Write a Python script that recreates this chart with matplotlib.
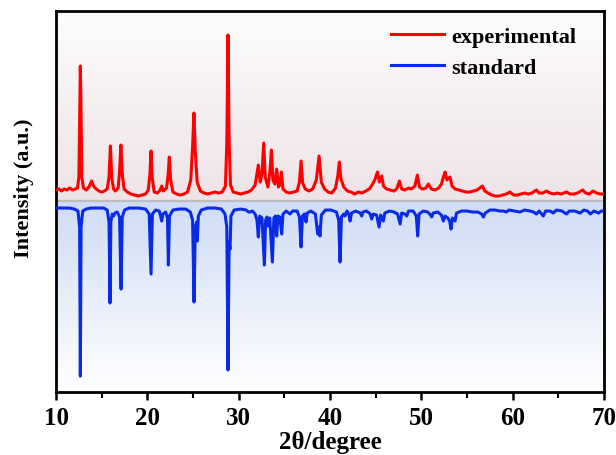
import matplotlib
matplotlib.use('Agg')
import matplotlib.pyplot as plt
import numpy as np
from matplotlib.colors import LinearSegmentedColormap

plt.rcParams['font.family'] = 'Liberation Serif'

# experimental pattern (2theta, intensity a.u.)
exp_2theta = [10.0, 10.3, 10.6, 10.9, 11.2, 11.5, 11.8, 12.1, 12.35, 12.5, 12.6, 12.66, 12.72, 12.82, 13.0,
              13.3, 13.6, 13.9, 14.1, 14.4, 14.7, 15.0, 15.3, 15.6, 15.8, 15.95, 16.1, 16.3, 16.5, 16.8,
              16.95, 17.1, 17.25, 17.45, 17.8, 18.2, 18.6, 19.0, 19.4, 19.8, 20.1, 20.28, 20.4, 20.52, 20.75,
              21.1, 21.4, 21.57, 21.75, 22.1, 22.28, 22.4, 22.55, 22.8, 23.2, 23.6, 24.0, 24.4, 24.75, 24.95,
              25.1, 25.25, 25.45, 25.8, 26.2, 26.6, 27.0, 27.4, 27.8, 28.2, 28.55, 28.7, 28.83, 28.95, 29.1,
              29.4, 29.8, 30.2, 30.6, 31.0, 31.4, 31.8, 32.15, 32.35, 32.55, 32.74, 32.9, 33.2, 33.42, 33.58,
              33.75, 33.95, 34.16, 34.35, 34.5, 34.67, 34.85, 35.2, 35.6, 36.0, 36.4, 36.65, 36.83, 37.0, 37.3,
              37.7, 38.1, 38.5, 38.8, 39.05, 39.4, 39.8, 40.2, 40.6, 40.85, 41.02, 41.2, 41.5, 41.9, 42.3,
              42.7, 43.1, 43.5, 43.9, 44.3, 44.6, 44.9, 45.2, 45.4, 45.66, 45.85, 46.2, 46.6, 47.0, 47.3,
              47.6, 47.85, 48.2, 48.6, 48.9, 49.3, 49.56, 49.8, 50.1, 50.5, 50.77, 51.1, 51.5, 51.9, 52.2,
              52.45, 52.6, 52.8, 53.14, 53.35, 53.7, 54.1, 54.5, 54.9, 55.3, 55.7, 56.1, 56.4, 56.68, 56.95,
              57.3, 57.7, 58.1, 58.5, 58.9, 59.3, 59.7, 60.1, 60.5, 60.9, 61.3, 61.7, 62.1, 62.6, 62.9,
              63.3, 63.7, 64.1, 64.5, 64.9, 65.3, 65.9, 66.3, 66.7, 67.1, 67.67, 68.0, 68.4, 68.8, 69.2,
              69.6, 70.0]
exp_int = [202, 203, 201, 203, 202, 204, 202, 203, 204, 215, 290, 326, 292, 215, 204,
           202, 205, 211, 206, 203, 201, 200, 201, 203, 215, 246, 214, 203, 201, 204,
           220, 247, 218, 203, 200, 198, 197, 196, 197, 198, 202, 218, 241, 215, 200,
           199, 202, 206, 201, 204, 218, 235, 212, 200, 198, 197, 198, 200, 212, 245,
           279, 240, 210, 201, 199, 198, 199, 200, 199, 200, 206, 250, 357, 250, 207,
           200, 199, 198, 199, 200, 202, 207, 227, 210, 218, 249, 215, 205, 220, 242,
           212, 208, 223, 205, 207, 220, 203, 200, 199, 200, 201, 210, 231, 209, 203,
           201, 203, 212, 236, 210, 203, 200, 199, 204, 216, 230, 213, 205, 201, 200,
           198, 200, 199, 201, 203, 207, 212, 220, 210, 216, 206, 203, 202, 201, 203,
           211, 203, 202, 204, 203, 206, 217, 205, 203, 204, 208, 203, 202, 204, 208,
           216, 220, 212, 215, 206, 203, 202, 201, 200, 200, 201, 202, 204, 206, 201,
           199, 197, 196, 196, 197, 198, 200, 197, 197, 198, 199, 198, 199, 202, 199,
           199, 201, 199, 198, 199, 198, 200, 198, 198, 199, 202, 199, 198, 201, 199,
           198, 198]

# standard pattern, drawn downwards from its baseline
std_2theta = [10.0, 10.5, 11.0, 11.5, 12.0, 12.4, 12.58, 12.66, 12.74, 12.92, 13.3, 13.8, 14.5, 15.2, 15.6,
              15.8, 15.91, 16.0, 16.15, 16.3, 16.45, 16.7, 16.95, 17.12, 17.25, 17.5, 18.0, 19.0, 19.8, 20.2,
              20.4, 20.55, 20.9, 21.3, 21.45, 21.57, 21.7, 22.0, 22.2, 22.3, 22.42, 22.8, 23.5, 24.2, 24.7,
              24.95, 25.11, 25.25, 25.4, 25.47, 25.58, 25.9, 26.6, 27.4, 28.1, 28.5, 28.7, 28.83, 28.95, 29.05,
              29.15, 29.5, 30.2, 30.8, 31.1, 31.24, 31.5, 31.8, 32.0, 32.15, 32.3, 32.55, 32.81, 32.95, 33.1,
              33.25, 33.4, 33.69, 33.85, 34.0, 34.16, 34.3, 34.5, 34.71, 34.85, 35.2, 35.62, 35.9, 36.4, 36.65,
              36.83, 36.98, 37.2, 37.37, 37.5, 37.9, 38.4, 38.65, 38.78, 38.9, 39.05, 39.5, 40.1, 40.7, 40.95,
              41.1, 41.25, 41.5, 41.64, 41.85, 42.05, 42.2, 42.35, 42.8, 43.3, 43.47, 43.6, 44.0, 44.4, 44.57,
              44.75, 45.1, 45.37, 45.55, 45.84, 46.0, 46.5, 47.0, 47.4, 47.67, 47.85, 48.2, 48.4, 48.6, 49.1,
              49.45, 49.6, 49.75, 50.2, 50.7, 51.0, 51.13, 51.3, 51.8, 52.2, 52.41, 52.6, 52.9, 53.1, 53.25,
              53.4, 53.69, 53.85, 54.4, 55.0, 55.6, 56.2, 56.6, 56.79, 57.0, 57.5, 58.1, 58.6, 59.0, 59.3,
              59.6, 60.2, 60.8, 61.3, 61.9, 62.3, 62.6, 62.9, 63.36, 63.6, 64.1, 64.45, 64.8, 65.4, 65.9,
              66.2, 66.8, 67.4, 67.8, 68.2, 68.5, 68.9, 69.4, 69.7, 70.0]
std_int = [0, 0, 0, 0, 1, 3, 19, 168, 19, 3, 1, 0, 0, 0, 2,
           14, 95, 14, 6, 8, 5, 4, 9, 81, 9, 2, 0, 0, 1, 6,
           66, 6, 2, 3, 8, 13, 6, 4, 10, 57, 8, 2, 1, 1, 4,
           12, 94, 19, 14, 33, 8, 2, 0, 0, 1, 6, 19, 162, 34, 41,
           8, 2, 1, 2, 4, 4, 3, 6, 12, 29, 8, 10, 57, 12, 9,
           18, 10, 54, 10, 8, 28, 8, 9, 26, 6, 3, 6, 3, 3, 9,
           39, 8, 6, 14, 5, 3, 6, 26, 19, 28, 7, 2, 2, 4, 12,
           54, 9, 6, 8, 3, 6, 13, 5, 3, 5, 8, 4, 3, 6, 11,
           6, 7, 19, 7, 13, 5, 3, 4, 6, 16, 5, 6, 8, 3, 3,
           8, 28, 6, 3, 4, 7, 9, 5, 4, 7, 13, 8, 10, 13, 21,
           10, 13, 5, 3, 3, 4, 4, 6, 9, 5, 2, 2, 3, 3, 4,
           2, 3, 4, 2, 3, 4, 6, 3, 8, 3, 3, 5, 2, 3, 6,
           3, 3, 5, 2, 3, 6, 3, 5, 3, 3]
std_offset = 184
split = 190.7

x_ticks = [10, 20, 30, 40, 50, 60, 70]
x_ticklabels = ['10', '20', '30', '40', '50', '60', '70']
x_minor = [15, 25, 35, 45, 55, 65]

fig = plt.figure(figsize=(6.16, 4.56), dpi=100)
ax = fig.add_axes([0.091, 0.138, 0.8895, 0.8357])
ax.set_xlim(10, 70)
ax.set_ylim(0, 381)

# shaded backgrounds
pink = LinearSegmentedColormap.from_list('pink', ['#eee3e7', '#fdfcfd'])
blue = LinearSegmentedColormap.from_list('blue', ['#ffffff', '#cfdcf5'])
grad = np.linspace(0, 1, 256).reshape(-1, 1)
ax.imshow(grad, cmap=pink, extent=[10, 70, split, 381], origin='lower', aspect='auto', zorder=0)
ax.imshow(grad, cmap=blue, extent=[10, 70, 0, split], origin='lower', aspect='auto', zorder=0)
ax.axhline(split, color='#bdbdbd', lw=1.6, zorder=1)

ax.plot(exp_2theta, exp_int, color='#ff0000', lw=2.2, label='experimental', zorder=3)
ax.plot(std_2theta, std_offset - np.array(std_int), color='#0a2be6', lw=2.2, label='standard', zorder=3)

ax.set_xlabel('2θ/degree', fontsize=18, fontweight='bold', labelpad=1)
ax.set_ylabel('Intensity (a.u.)', fontsize=16, fontweight='bold')
ax.yaxis.set_label_coords(-0.040, 0.538)
ax.set_xticks(x_ticks, labels=x_ticklabels, fontsize=18, fontweight='bold')
ax.set_xticks(x_minor, minor=True)
ax.set_yticks([])
ax.tick_params(axis='x', which='major', direction='out', length=6, width=1.8, pad=4)
ax.tick_params(axis='x', which='minor', direction='out', length=4, width=1.5)
for s in ax.spines.values():
    s.set_linewidth(2)

leg = ax.legend(loc='upper right', bbox_to_anchor=(0.985, 1.012), frameon=False,
                prop={'weight': 'bold', 'size': 16},
                handlelength=2.4, handletextpad=0.3, labelspacing=0.45)

fig.savefig('out.png', dpi=100)
